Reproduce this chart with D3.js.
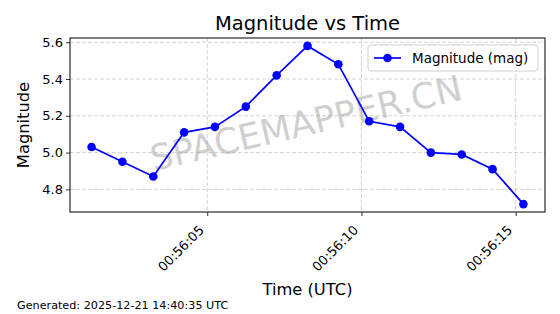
<!DOCTYPE html>
<html>
<head>
<meta charset="utf-8">
<script src="https://cdn.jsdelivr.net/npm/d3@7"></script>
<style>
  body { margin: 0; background: #fff; }
  svg { display: block; }
  svg text { font-family: "DejaVu Sans", sans-serif; }
</style>
</head>
<body>
<svg width="560" height="314"></svg>
<script>
const times = [
  '2025-12-21T00:56:01.25Z', '2025-12-21T00:56:02.25Z', '2025-12-21T00:56:03.25Z',
  '2025-12-21T00:56:04.25Z', '2025-12-21T00:56:05.25Z', '2025-12-21T00:56:06.25Z',
  '2025-12-21T00:56:07.25Z', '2025-12-21T00:56:08.25Z', '2025-12-21T00:56:09.25Z',
  '2025-12-21T00:56:10.25Z', '2025-12-21T00:56:11.25Z', '2025-12-21T00:56:12.25Z',
  '2025-12-21T00:56:13.25Z', '2025-12-21T00:56:14.25Z', '2025-12-21T00:56:15.25Z'
];
const magnitudes = [5.03, 4.95, 4.87, 5.11, 5.14, 5.25, 5.42, 5.58, 5.48, 5.17, 5.14, 5.00, 4.99, 4.91, 4.72];
const yTicks = [4.8, 5.0, 5.2, 5.4, 5.6];

const data = times.map((t, i) => ({ t: new Date(t), v: magnitudes[i] }));

const margin = { left: 70, right: 15, top: 38, bottom: 102 };
const width = 560, height = 314;
const svg = d3.select('svg');

// matplotlib-like 5% padding
const tExt = d3.extent(data, d => d.t);
const tPad = (tExt[1] - tExt[0]) * 0.05;
const x = d3.scaleUtc()
  .domain([new Date(+tExt[0] - tPad), new Date(+tExt[1] + tPad)])
  .range([margin.left, width - margin.right]);
const vExt = d3.extent(magnitudes);
const vPad = (vExt[1] - vExt[0]) * 0.05;
const y = d3.scaleLinear()
  .domain([vExt[0] - vPad, vExt[1] + vPad])
  .range([height - margin.bottom, margin.top]);

const xTicks = x.ticks(d3.utcSecond.every(5));

// grid
const grid = svg.append('g');
grid.selectAll('.gx').data(xTicks).enter().append('line')
  .attr('x1', d => x(d)).attr('x2', d => x(d))
  .attr('y1', margin.top).attr('y2', height - margin.bottom)
  .attr('stroke', '#b0b0b0').attr('stroke-opacity', 0.7)
  .attr('stroke-dasharray', '4,2').attr('stroke-width', 0.8);
grid.selectAll('.gy').data(yTicks).enter().append('line')
  .attr('x1', margin.left).attr('x2', width - margin.right)
  .attr('y1', d => y(d)).attr('y2', d => y(d))
  .attr('stroke', '#b0b0b0').attr('stroke-opacity', 0.7)
  .attr('stroke-dasharray', '4,2').attr('stroke-width', 0.8);

// watermark
svg.append('text')
  .attr('transform', 'translate(306,123) rotate(-13)')
  .attr('text-anchor', 'middle')
  .attr('dominant-baseline', 'central')
  .attr('font-size', 35.5)
  .attr('fill', '#a0a0a0')
  .attr('fill-opacity', 0.5)
  .text('SPACEMAPPER.CN');

// line + markers
svg.append('path')
  .datum(data)
  .attr('fill', 'none')
  .attr('stroke', '#0000ff')
  .attr('stroke-width', 1.7)
  .attr('d', d3.line().x(d => x(d.t)).y(d => y(d.v)));
svg.selectAll('.pt').data(data).enter().append('circle')
  .attr('cx', d => x(d.t)).attr('cy', d => y(d.v))
  .attr('r', 4.3).attr('fill', '#0000ff');

// axes
const xAxis = svg.append('g')
  .attr('transform', `translate(0,${height - margin.bottom})`)
  .call(d3.axisBottom(x).tickValues(xTicks).tickFormat(d3.utcFormat('%H:%M:%S')).tickSizeOuter(0).tickSize(4));
xAxis.selectAll('text')
  .attr('font-size', 13)
  .attr('fill', '#000')
  .attr('text-anchor', 'end')
  .attr('dy', null)
  .attr('y', 0)
  .attr('transform', 'translate(-3,19) rotate(-45)');
const yAxis = svg.append('g')
  .attr('transform', `translate(${margin.left},0)`)
  .call(d3.axisLeft(y).tickValues(yTicks).tickFormat(d3.format('.1f')).tickSizeOuter(0).tickSize(4));
yAxis.selectAll('text').attr('font-size', 13).attr('fill', '#000');
svg.selectAll('.domain').remove();
svg.selectAll('.tick line').attr('stroke', '#000').attr('stroke-width', 0.8);

// frame
svg.append('rect')
  .attr('x', margin.left).attr('y', margin.top)
  .attr('width', width - margin.left - margin.right)
  .attr('height', height - margin.top - margin.bottom)
  .attr('fill', 'none').attr('stroke', '#000').attr('stroke-width', 1);

// titles
svg.append('text')
  .attr('x', (margin.left + width - margin.right) / 2).attr('y', 30)
  .attr('text-anchor', 'middle').attr('font-size', 19.5)
  .text('Magnitude vs Time');
svg.append('text')
  .attr('x', (margin.left + width - margin.right) / 2).attr('y', 295)
  .attr('text-anchor', 'middle').attr('font-size', 16.3)
  .text('Time (UTC)');
svg.append('text')
  .attr('transform', `translate(29,${(margin.top + height - margin.bottom) / 2}) rotate(-90)`)
  .attr('text-anchor', 'middle').attr('font-size', 16.3)
  .text('Magnitude');

// footer
svg.append('text')
  .attr('x', 17).attr('y', 308.5)
  .attr('font-size', 11.2)
  .text('Generated: 2025-12-21 14:40:35 UTC');

// legend
const lg = svg.append('g').attr('transform', 'translate(368,45)');
lg.append('rect')
  .attr('width', 170).attr('height', 26).attr('rx', 3)
  .attr('fill', '#fff').attr('fill-opacity', 0.8)
  .attr('stroke', '#d0d0d0');
lg.append('line').attr('x1', 6).attr('x2', 33).attr('y1', 13).attr('y2', 13)
  .attr('stroke', '#0000ff').attr('stroke-width', 1.7);
lg.append('circle').attr('cx', 19.5).attr('cy', 13).attr('r', 4.3).attr('fill', '#0000ff');
lg.append('text').attr('x', 44).attr('y', 17.5).attr('font-size', 13.5).text('Magnitude (mag)');
</script>
</body>
</html>
